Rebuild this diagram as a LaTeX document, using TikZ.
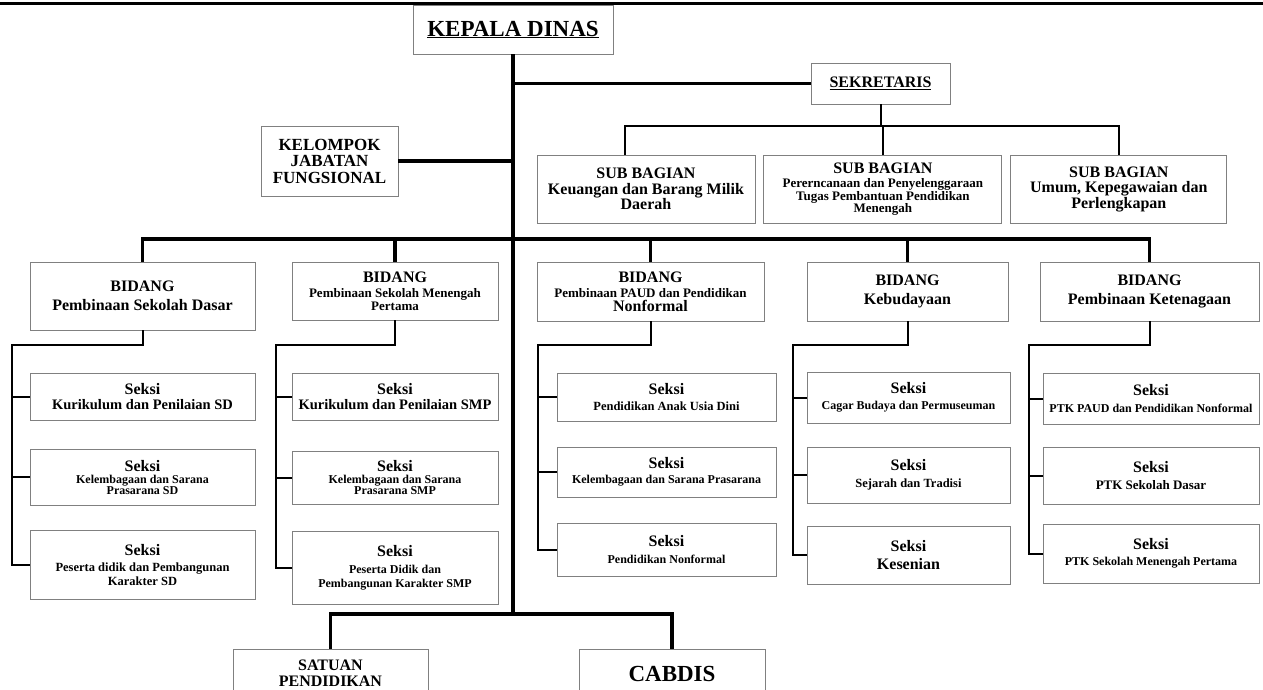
\documentclass[tikz,border=0pt]{standalone}
\usepackage{fontspec}
\setmainfont{Liberation Serif}
\usepackage{tikz}
\usetikzlibrary{positioning}
\definecolor{boxgray}{rgb}{0.5,0.5,0.5}
\newcommand{\fsz}[2]{\fontsize{#1}{#2}\selectfont}
\tikzstyle{box}=[draw=boxgray, line width=0.9pt, fill=white, align=center, inner sep=0pt, font=\bfseries]
\tikzstyle{trunk}=[line width=3.5pt]
\tikzstyle{branch}=[line width=2pt]
\tikzstyle{big}=[font=\bfseries\fsz{16}{17}]
\tikzstyle{small}=[font=\bfseries\fsz{12}{13.5}]
\newcommand{\sk}{{\fsz{16}{16}Seksi}}

\begin{document}
\begin{tikzpicture}[x=1pt,y=-1pt]
\clip (0,0) rectangle (1263,689);
\fill[white] (0,0) rectangle (1263,689);

% header rule
\coordinate (ruleL) at (0,3);
\coordinate (ruleR) at (1263,3);
\draw[line width=3pt] (ruleL) -- (ruleR);

\node[box, font=\bfseries\fsz{23}{26}, minimum width=200pt, minimum height=49pt] (kepala) at (513,29.5) {\underline{KEPALA DINAS}};
\node[box, big, minimum width=139pt, minimum height=41pt] (sek) at (880.5,83.5) {\underline{SEKRETARIS}};
\node[box, font=\bfseries\fsz{17}{16.5}, minimum width=137pt, minimum height=70pt] (kel) at (329.5,161) {KELOMPOK\\JABATAN\\FUNGSIONAL};

% sub bagian
\node[box, font=\bfseries\fsz{16}{15.5}, minimum width=218pt, minimum height=68pt] (sb1) at (646,189) {SUB BAGIAN\\Keuangan dan Barang Milik\\Daerah};
\node[box, font=\bfseries\fsz{13}{12.5}, minimum width=238pt, minimum height=68pt, right=8pt of sb1] (sb2) {{\fsz{16}{16}SUB BAGIAN}\\[2pt]Pererncanaan dan Penyelenggaraan\\Tugas Pembantuan Pendidikan\\Menengah};
\node[box, font=\bfseries\fsz{16}{15.5}, minimum width=216pt, minimum height=68pt, right=8pt of sb2] (sb3) {SUB BAGIAN\\Umum, Kepegawaian dan\\Perlengkapan};

% bidang
\node[box, big, minimum width=225pt, minimum height=68pt] (bidSD) at (142.5,296) {BIDANG\\[2pt]Pembinaan Sekolah Dasar};
\node[box, font=\bfseries\fsz{13}{13}, minimum width=206pt, minimum height=58pt] (bidSMP) at (395,291) {{\fsz{16}{16}BIDANG}\\[2pt]Pembinaan Sekolah Menengah\\Pertama};
\node[box, font=\bfseries\fsz{13}{13}, minimum width=227pt, minimum height=59pt] (bidPAUD) at (650.5,291.5) {{\fsz{16}{16}BIDANG}\\[2pt]Pembinaan PAUD dan Pendidikan\\[1pt]{\fsz{16}{16}Nonformal}};
\node[box, big, minimum width=201pt, minimum height=59pt] (bidBud) at (907.5,291.5) {BIDANG\\[2pt]Kebudayaan};
\node[box, big, minimum width=219pt, minimum height=59pt] (bidKet) at (1149.5,291.5) {BIDANG\\[2pt]Pembinaan Ketenagaan};

% seksi
\node[box, font=\bfseries\fsz{14.5}{14}, minimum width=225pt, minimum height=47pt] (sSD1) at (142.5,396.5) {\sk\\[1pt]Kurikulum dan Penilaian SD};
\node[box, font=\bfseries\fsz{12}{11}, minimum width=225pt, minimum height=56pt] (sSD2) at (142.5,477) {\sk\\[1pt]Kelembagaan dan Sarana\\Prasarana SD};
\node[box, font=\bfseries\fsz{12.5}{14}, minimum width=225pt, minimum height=69pt] (sSD3) at (142.5,564.5) {\sk\\[2pt]Peserta didik dan Pembangunan\\Karakter SD};
\node[box, font=\bfseries\fsz{14.5}{14}, minimum width=206pt, minimum height=47pt] (sSMP1) at (395,396.5) {\sk\\[1pt]Kurikulum dan Penilaian SMP};
\node[box, font=\bfseries\fsz{12}{11}, minimum width=206pt, minimum height=53pt] (sSMP2) at (395,477.5) {\sk\\[1pt]Kelembagaan dan Sarana\\Prasarana SMP};
\node[box, font=\bfseries\fsz{12}{14}, minimum width=206pt, minimum height=73pt] (sSMP3) at (395,567.5) {\sk\\[3pt]Peserta Didik dan\\Pembangunan Karakter SMP};
\node[box, font=\bfseries\fsz{12.5}{14}, minimum width=219pt, minimum height=48pt] (sPAUD1) at (666.5,397) {\sk\\[2pt]Pendidikan Anak Usia Dini};
\node[box, small, minimum width=219pt, minimum height=50pt] (sPAUD2) at (666.5,472) {\sk\\[1pt]Kelembagaan dan Sarana Prasarana};
\node[box, small, minimum width=219pt, minimum height=53pt] (sPAUD3) at (666.5,549.5) {\sk\\[3pt]Pendidikan Nonformal};
\node[box, small, minimum width=203pt, minimum height=51pt] (sBud1) at (908.5,397.5) {\sk\\[2pt]Cagar Budaya dan Permuseuman};
\node[box, font=\bfseries\fsz{12.5}{14}, minimum width=203pt, minimum height=56pt] (sBud2) at (908.5,475) {\sk\\[3pt]Sejarah dan Tradisi};
\node[box, font=\bfseries\fsz{16}{16}, minimum width=203pt, minimum height=58pt] (sBud3) at (908.5,555) {Seksi\\[2pt]Kesenian};
\node[box, small, minimum width=216pt, minimum height=51pt] (sKet1) at (1151,398.5) {\sk\\[3pt]PTK PAUD dan Pendidikan Nonformal};
\node[box, font=\bfseries\fsz{13}{14}, minimum width=216pt, minimum height=57pt] (sKet2) at (1151,475.5) {\sk\\[3pt]PTK Sekolah Dasar};
\node[box, small, minimum width=216pt, minimum height=59pt] (sKet3) at (1151,553.5) {\sk\\[2pt]PTK Sekolah Menengah Pertama};

% bottom
\node[box, font=\bfseries\fsz{16}{15.5}, minimum width=195pt, minimum height=48pt] (sat) at (330.5,673) {SATUAN\\PENDIDIKAN};
\node[box, font=\bfseries\fsz{23}{24}, minimum width=186pt, minimum height=50pt] (cab) at (672,674) {CABDIS};

\coordinate (bus) at (513,239);
\coordinate (bot) at (513,614);
\coordinate (sbus) at (880,126);

% main lines
\draw[trunk] (kepala.south) -- (bot);
\draw[trunk] (kepala.south |- sek.west) -- (sek.west);
\draw[trunk] (kel.east) -- (kel.east -| bot);
\draw[trunk] (bidSD.north) |- (bus) -| (bidKet.north);
\foreach \b in {SMP,PAUD,Bud}
  \draw[trunk] (bid\b.north) -- (bid\b.north |- bus);
\draw[trunk] (sat.north) |- (bot) -| (cab.north);

% sekretaris
\draw[branch] (sek.south) -- (sek.south |- sbus);
\draw[branch] ([xshift=-21pt]sb1.north) |- (sbus) -| (sb3.north);
\draw[branch] (sb2.north) -- (sb2.north |- sbus);

% seksi
\foreach \c/\vx in {SD/12,SMP/276,PAUD/538,Bud/793,Ket/1029}
{
  \coordinate (v\c) at (\vx,345);
  \draw[branch] (bid\c.south) |- (v\c) |- (s\c3.west);
  \foreach \i in {1,2}
    \draw[branch] (v\c |- s\c\i.west) -- (s\c\i.west);
}
\end{tikzpicture}
\end{document}
